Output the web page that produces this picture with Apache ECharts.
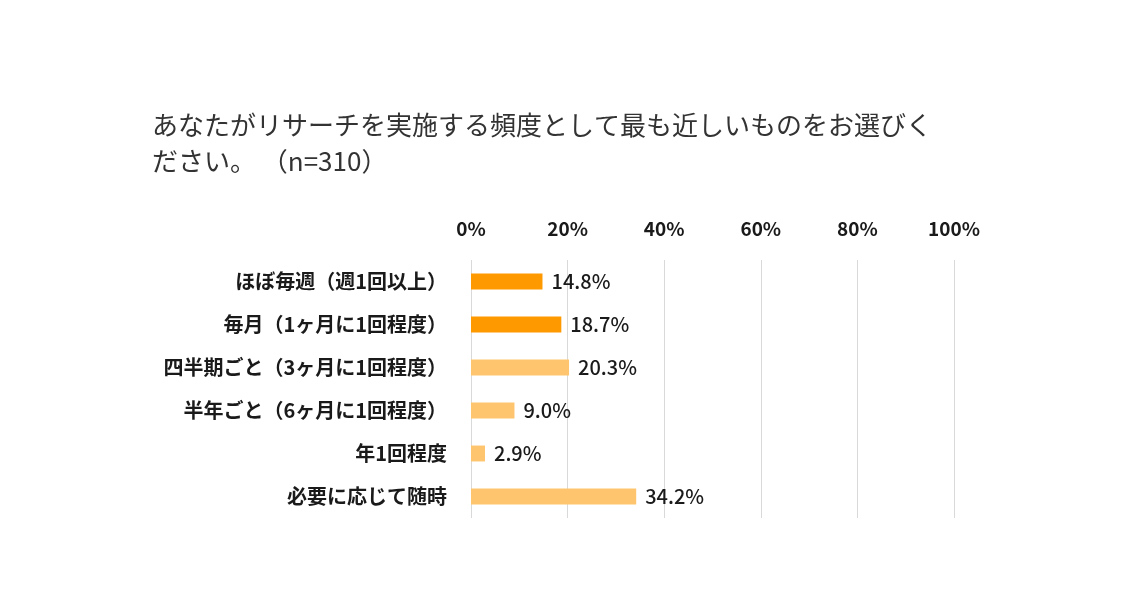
<!DOCTYPE html>
<html>
<head>
<meta charset="utf-8">
<script src="https://cdn.jsdelivr.net/npm/echarts@6/dist/echarts.min.js"></script>
<style>
  html, body { margin: 0; padding: 0; background: #fff; }
  #chart { width: 1139px; height: 598px; }
</style>
</head>
<body>
<div id="chart"></div>
<script>
// 回答の選択肢（上から順に）
var categories = [
  'ほぼ毎週（週1回以上）',
  '毎月（1ヶ月に1回程度）',
  '四半期ごと（3ヶ月に1回程度）',
  '半年ごと（6ヶ月に1回程度）',
  '年1回程度',
  '必要に応じて随時'
];
var values = [14.8, 18.7, 20.3, 9.0, 2.9, 34.2];
var highlight = [true, true, false, false, false, false];
var axisTicks = [0, 20, 40, 60, 80, 100];

var font = '"Noto Sans CJK JP", "Noto Sans", sans-serif';

var chart = echarts.init(document.getElementById('chart'));
var options = {
  backgroundColor: '#fff',
  title: {
    text: 'あなたがリサーチを実施する頻度として最も近しいものをお選びく\nださい。 （n=310）',
    left: 147,
    top: 102,
    textStyle: {
      fontFamily: font,
      fontSize: 26,
      fontWeight: 'normal',
      color: '#333',
      lineHeight: 36
    }
  },
  grid: {
    left: 471,
    right: 185,
    top: 260,
    bottom: 80
  },
  xAxis: {
    type: 'value',
    position: 'top',
    min: axisTicks[0],
    max: axisTicks[axisTicks.length - 1],
    interval: 20,
    axisLine: { show: false },
    axisTick: { show: false },
    axisLabel: {
      margin: 22,
      formatter: '{value}%',
      fontFamily: font,
      fontSize: 19,
      fontWeight: 'bold',
      color: '#1a1a1a'
    },
    splitLine: { lineStyle: { color: '#d9d9d9', width: 1 } }
  },
  yAxis: {
    type: 'category',
    inverse: true,
    data: categories,
    axisLine: { show: false },
    axisTick: { show: false },
    axisLabel: {
      margin: 24,
      fontFamily: font,
      fontSize: 20,
      fontWeight: 'bold',
      color: '#1a1a1a'
    }
  },
  series: [
    {
      type: 'bar',
      barWidth: '37%',
      data: values.map(function (v, i) {
        return {
          value: v,
          itemStyle: { color: highlight[i] ? '#FF9900' : '#FFC56E' }
        };
      }),
      label: {
        show: true,
        position: 'right',
        distance: 9,
        formatter: function (p) { return p.value.toFixed(1) + '%'; },
        fontFamily: font,
        fontSize: 20,
        fontWeight: 500,
        color: '#1a1a1a'
      }
    }
  ]
};

chart.setOption(options);
</script>
</body>
</html>
